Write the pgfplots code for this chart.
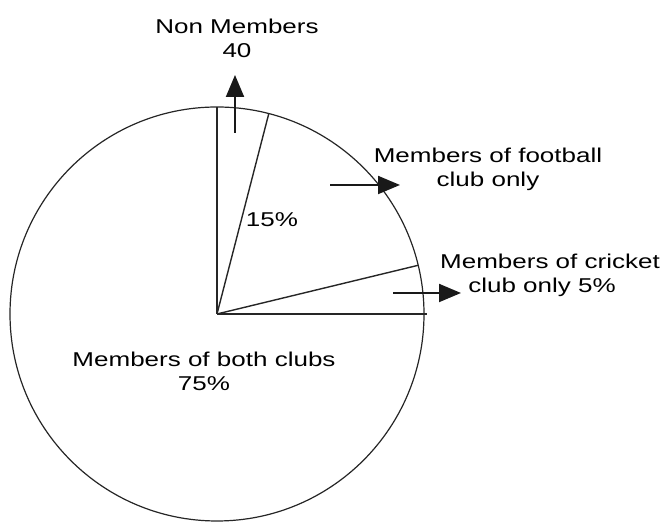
\documentclass[border=0pt]{standalone}
\usepackage{fontspec}
\setmainfont{Liberation Sans}[FakeStretch=1.3]
\usepackage{pgfplots}
\pgfplotsset{compat=1.18}
\usetikzlibrary{arrows.meta}

\begin{document}
\begin{tikzpicture}
  \begin{axis}[
    scale only axis,
    width=335pt, height=261.5pt,
    xmin=0, xmax=670, ymin=0, ymax=523,
    hide axis, clip=false,
    every node/.style={inner sep=0pt, text=black!85, font=\fontsize{13.4}{15}\selectfont}]
  \path (rel axis cs:0,0) rectangle (rel axis cs:1,1);
  % pie outline, centre (217,209), radius 207
  \draw[black!85, line width=0.6pt] (axis cs:217,209) circle[radius=207];
  % sector boundaries (cricket 5%, football 15%, non members, both 75%)
  \addplot[black!85, line width=0.7pt] coordinates {(217,209) (427,209)};
  \addplot[black!85, line width=0.7pt] coordinates {(217,209) (418.2,257.7)};
  \addplot[black!85, line width=0.7pt] coordinates {(217,209) (268.8,409.4)};
  \addplot[black!85, line width=0.7pt] coordinates {(217,209) (217,416)};
  % pointer arrows
  \addplot[black!90, line width=1pt, -{Stealth[length=11pt, width=9pt, inset=0pt]}]
    coordinates {(235,390) (235,448)};
  \addplot[black!90, line width=1pt, -{Stealth[length=11pt, width=9pt, inset=0pt]}]
    coordinates {(330,338) (400,338)};
  \addplot[black!90, line width=1pt, -{Stealth[length=11pt, width=9pt, inset=0pt]}]
    coordinates {(393,230) (461,230)};
  % labels
  \node[align=center] at (axis cs:237,485) {Non Members\\40};
  \node[align=center] at (axis cs:488,354) {Members of football\\club only};
  \node[align=center] at (axis cs:550,248) {Members of cricket\\\hspace*{-8pt}club only 5\%};
  \node at (axis cs:272,303) {15\%};
  \node[align=center] at (axis cs:204,152) {Members of both clubs\\75\%};
  \end{axis}
\end{tikzpicture}
\end{document}
